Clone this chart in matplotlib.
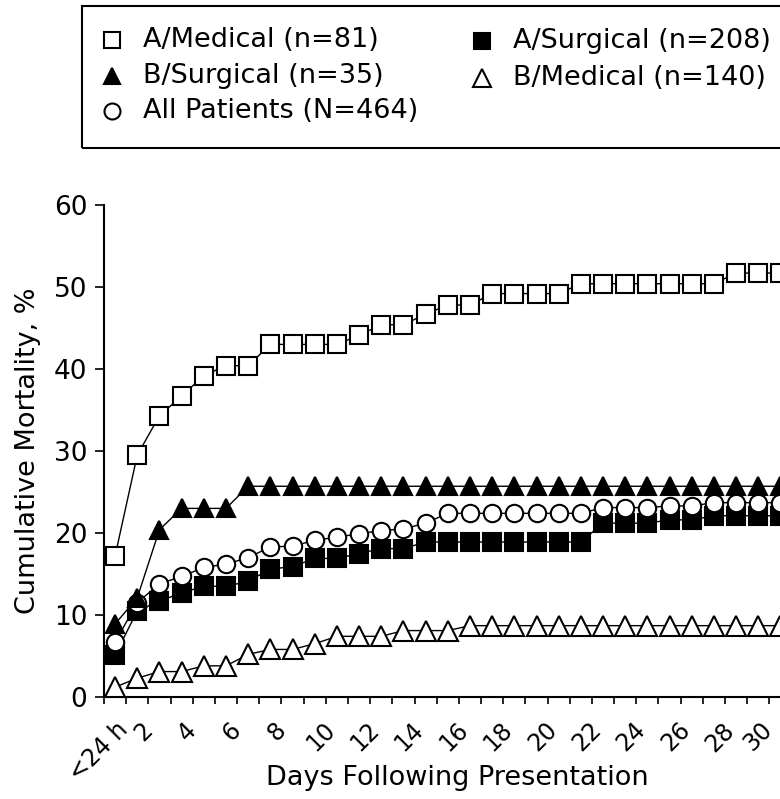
import matplotlib
matplotlib.use("Agg")
import matplotlib.pyplot as plt
from matplotlib.lines import Line2D
from matplotlib.patches import Rectangle
from matplotlib.transforms import ScaledTranslation
import numpy as np

plt.rcParams['font.family'] = ['DejaVu Sans']

# ---------------- data ----------------
days = list(range(31))          # 0 = "<24 h"
label_days = list(range(0, 31, 2))
tick_labels = ['<24 h'] + [str(d) for d in range(2, 31, 2)]

a_medical = [17.2, 29.5, 34.3, 36.7, 39.2, 40.4, 40.4, 43.0, 43.0, 43.0, 43.0,
             44.1, 45.4, 45.4, 46.7, 47.8, 47.8, 49.2, 49.2, 49.2, 49.2,
             50.4, 50.4, 50.4, 50.4, 50.4, 50.4, 50.4, 51.7, 51.7, 51.7]
b_surgical = [8.9, 12.1, 20.4, 23.0, 23.0, 23.0] + [25.7] * 25
a_surgical = [5.1, 10.5, 11.7, 12.7, 13.5, 13.5, 14.1, 15.6, 15.9, 16.9, 16.9,
              17.5, 18.1, 18.1, 18.9, 18.9, 18.9, 18.9, 18.9, 18.9, 18.9, 18.9,
              21.2, 21.2, 21.2, 21.6, 21.6, 22.1, 22.1, 22.1, 22.1]
all_patients = [6.7, 11.5, 13.8, 14.7, 15.8, 16.2, 17.0, 18.3, 18.4, 19.1, 19.5,
                19.9, 20.3, 20.5, 21.2, 22.4, 22.4, 22.4, 22.4, 22.4, 22.4, 22.4,
                23.1, 23.1, 23.1, 23.3, 23.3, 23.7, 23.7, 23.7, 23.7]
b_medical = [1.2, 2.3, 3.1, 3.1, 3.8, 3.8, 5.2, 5.8, 5.8, 6.5, 7.4, 7.4, 7.4,
             8.1, 8.1, 8.1] + [8.7] * 15

names = ['A/Medical (n=81)', 'B/Surgical (n=35)', 'All Patients (N=464)',
         'A/Surgical (n=208)', 'B/Medical (n=140)']

# ---------------- figure ----------------
W, H = 780, 799
fig = plt.figure(figsize=(W / 100, H / 100), dpi=100)


def fx(px):
    return px / W


def fy(py):
    return 1 - py / H


PX_PER_DAY = 22.18
ax = fig.add_axes([fx(104), fy(697), 31.5 * PX_PER_DAY / W, 492 / H])

styles = {
    'A/Medical (n=81)': dict(marker='s', mfc='white', ms=12.5),
    'B/Surgical (n=35)': dict(marker='^', mfc='black', ms=13),
    'All Patients (N=464)': dict(marker='o', mfc='white', ms=12.5),
    'A/Surgical (n=208)': dict(marker='s', mfc='black', ms=12.5),
    'B/Medical (n=140)': dict(marker='^', mfc='white', ms=14.5),
}
series = {
    'A/Medical (n=81)': a_medical,
    'B/Surgical (n=35)': b_surgical,
    'All Patients (N=464)': all_patients,
    'A/Surgical (n=208)': a_surgical,
    'B/Medical (n=140)': b_medical,
}
order = ['B/Medical (n=140)', 'A/Surgical (n=208)', 'All Patients (N=464)',
         'B/Surgical (n=35)', 'A/Medical (n=81)']
for z, name in enumerate(order):
    st = styles[name]
    ax.plot(days, series[name], color='black', lw=1.0, marker=st['marker'],
            ms=st['ms'], mfc=st['mfc'], mec='black', mew=1.5, clip_on=False,
            zorder=3 + z)

ax.set_xlim(-0.5, 31)
ax.set_ylim(0, 60)
for s in ['top', 'right']:
    ax.spines[s].set_visible(False)
for s in ['left', 'bottom']:
    ax.spines[s].set_linewidth(1.5)

ax.set_xticks(np.arange(-0.5, 31, 1), minor=True)
ax.set_xticks([d - 0.5 for d in label_days])
ax.set_xticklabels(tick_labels, rotation=45, ha='center', fontsize=17)
ax.tick_params(axis='x', which='both', direction='out', length=5, width=1.2,
               pad=10)
labels = ax.get_xticklabels()
for i, lab in enumerate(labels):
    dx = -5 if i < len(labels) - 1 else -11
    lab.set_transform(lab.get_transform() +
                      ScaledTranslation(dx / 100, 0, fig.dpi_scale_trans))
ax.set_yticks(range(0, 61, 10))
ax.tick_params(axis='y', direction='out', length=6.5, width=1.2, pad=5.5,
               labelsize=19)

ax.set_xlabel('Days Following Presentation', fontsize=19.5)
ax.xaxis.label.set_va('baseline')
ax.xaxis.set_label_coords((457.5 - 104) / (31.5 * PX_PER_DAY), (697 - 785) / 492)
ax.set_ylabel('Cumulative Mortality, %', fontsize=19.5)
ax.yaxis.label.set_va('center')
ax.yaxis.set_label_coords((28 - 104) / (31.5 * PX_PER_DAY), 0.5)

# ---------------- legend box ----------------
rect = Rectangle((fx(82), fy(148)), fx(810) - fx(82), (148 - 6) / H,
                 transform=fig.transFigure, fill=False, lw=1.5, ec='black')
fig.add_artist(rect)
legend_pos = {
    'A/Medical (n=81)': (112, 40),
    'B/Surgical (n=35)': (112, 76),
    'All Patients (N=464)': (112, 111),
    'A/Surgical (n=208)': (482, 41),
    'B/Medical (n=140)': (482, 78),
}
for name, (mx, my) in legend_pos.items():
    st = styles[name]
    ms = st['ms'] * (0.85 if st['marker'] == '^' else 0.92)
    fig.add_artist(Line2D([fx(mx)], [fy(my)], transform=fig.transFigure,
                          marker=st['marker'], ms=ms, mfc=st['mfc'],
                          mec='black', mew=1.5, ls='none'))
    fig.text(fx(mx + 31), fy(my), name, fontsize=19.5, va='center', ha='left')

fig.savefig('out.png', dpi=100)
